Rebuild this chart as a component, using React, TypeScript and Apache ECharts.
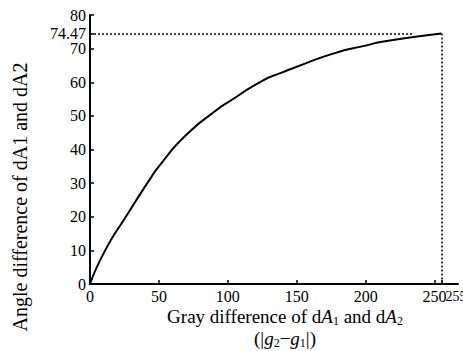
import React, { useEffect, useRef } from "react";
import * as echarts from "echarts";

const grayLevels = [0, 11, 26, 44, 50, 69, 93, 100, 125, 140, 150, 177, 200, 213, 255];
const angleDiffs = [0, 10, 20, 31.5, 35, 44, 52.1, 54, 60.4, 63, 64.6, 68.6, 70.9, 72.1, 74.47];
const xTickValues = [0, 50, 100, 150, 200, 250, 255];
const xLabelValues = [0, 50, 100, 150, 200, 250];
const xExtraLabel = [255];
const yTickValues = [0, 10, 20, 30, 40, 50, 60, 70, 74.47, 80];
const markValue = 74.47;
const markGray = 255;
const hLineEnd = 235;
const yTitle = "Angle difference of dA1 and dA2";
const xTitle = "Gray difference of d{i|A}{s|1} and d{i|A}{s|2}\n(|{i|g}{s|2}−{i|g}{s|1}|)";

const FONT = "'Liberation Serif', 'Times New Roman', 'DejaVu Serif', serif";

export default function App() {
  const ref = useRef<HTMLDivElement>(null);
  useEffect(() => {
    if (!ref.current) return;
    const chart = echarts.init(ref.current, undefined, { renderer: "svg" });
    const data = grayLevels.map((g, i) => [g, angleDiffs[i]]);
    const labelBase = { color: "#000", fontFamily: FONT, fontSize: 16 };
    chart.setOption({
      animation: false,
      backgroundColor: "#fff",
      grid: { left: 90, right: 5, top: 15, bottom: 67, outerBoundsMode: "none", containLabel: false },
      xAxis: [
        {
          type: "value",
          min: 0,
          max: 267,
          splitLine: { show: false },
          axisLine: { lineStyle: { color: "#000", width: 2 } },
          axisTick: { inside: true, length: 4, customValues: xTickValues, lineStyle: { color: "#000", width: 1.5 } },
          axisLabel: { ...labelBase, customValues: xLabelValues, margin: 4 },
        },
        {
          type: "value",
          min: 0,
          max: 267,
          position: "bottom",
          splitLine: { show: false },
          axisLine: { show: false },
          axisTick: { show: false },
          axisLabel: { ...labelBase, fontSize: 14, customValues: xExtraLabel, align: "left", padding: [0, 0, 0, 4], margin: 5 },
        },
      ],
      yAxis: {
        type: "value",
        min: 0,
        max: 80,
        splitLine: { show: false },
        axisLine: { show: true, lineStyle: { color: "#000", width: 2 } },
        axisTick: { show: true, inside: true, length: 4, customValues: yTickValues, lineStyle: { color: "#000", width: 1.5 } },
        axisLabel: { ...labelBase, customValues: yTickValues, hideOverlap: false, lineHeight: 14, margin: 4 },
      },
      graphic: [
        {
          type: "text",
          x: 20,
          y: 197,
          rotation: Math.PI / 2,
          style: {
            text: yTitle,
            fill: "#000",
            fontFamily: FONT,
            fontSize: 20,
            align: "center",
            verticalAlign: "middle",
          },
        },
        {
          type: "text",
          x: 285,
          y: 327,
          style: {
            text: xTitle,
            fill: "#000",
            fontFamily: FONT,
            fontSize: 19,
            lineHeight: 22,
            align: "center",
            verticalAlign: "middle",
            rich: {
              i: { fontFamily: FONT, fontSize: 19, fontStyle: "italic", fill: "#000" },
              s: { fontFamily: FONT, fontSize: 12, fill: "#000", verticalAlign: "bottom", padding: [7, 0, 0, 0] },
            },
          },
        },
      ],
      series: [
        {
          type: "line",
          data,
          smooth: 0.6,
          showSymbol: false,
          lineStyle: { color: "#000", width: 2 },
          markLine: {
            silent: true,
            symbol: "none",
            label: { show: false },
            lineStyle: { color: "#000", width: 1.5, type: [2, 2] },
            data: [
              [{ coord: [0, markValue] }, { coord: [hLineEnd, markValue] }],
              [{ coord: [markGray, markValue] }, { coord: [markGray, 0] }],
            ],
          },
        },
      ],
    });
    return () => chart.dispose();
  }, []);
  return <div ref={ref} style={{ position: "fixed", left: 0, top: 0, width: 463, height: 351 }} />;
}
